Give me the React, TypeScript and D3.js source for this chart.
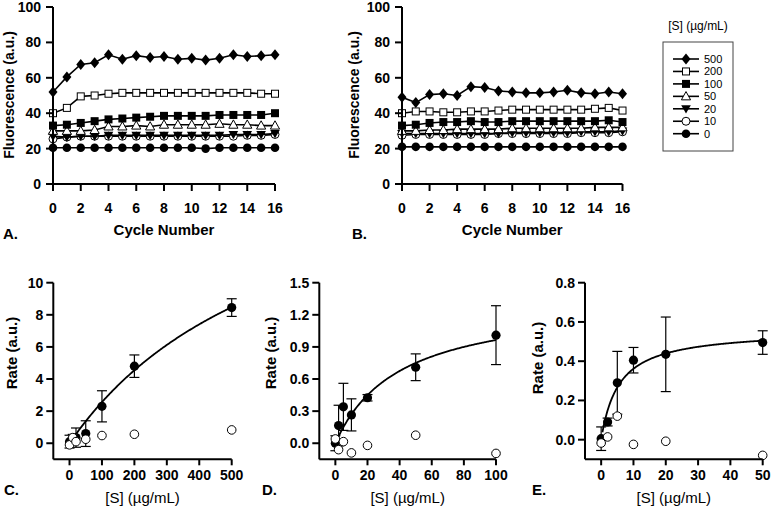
import React from 'react';
import * as d3 from 'd3';

const FONT = '"Liberation Sans", Arial, Helvetica, sans-serif';

// ---------- Data: panels A & B (fluorescence vs cycle) ----------
const cycleNumbers = [0, 1, 2, 3, 4, 5, 6, 7, 8, 9, 10, 11, 12, 13, 14, 15, 16];
const concentrationLabels = ['500', '200', '100', '50', '20', '10', '0'];
const markerKinds = ['diamond', 'openSquare', 'square', 'openTriangle', 'triangleDown', 'openCircle', 'circle'];

const panelA500 = [52, 60.5, 67.5, 68.5, 73, 70.5, 72.5, 71.5, 72, 70.5, 71, 70, 71, 73, 72, 72.5, 73];
const panelA200 = [40, 43, 49.5, 50, 51, 51.5, 51.5, 51.5, 51.5, 51.5, 51.5, 51.5, 51.5, 51.5, 51.5, 51, 51];
const panelA100 = [33, 33.5, 34.5, 35.5, 36.5, 37, 37.5, 38, 38.5, 38.5, 38.5, 38.5, 39, 39, 39, 39, 40];
const panelA50 = [30, 30, 30, 30.5, 32.5, 32.5, 33, 32.5, 33.5, 33.5, 33.5, 33.5, 34, 33.5, 33.5, 33, 33];
const panelA20 = [27, 26.5, 27, 27, 27.5, 27.5, 27.5, 27.5, 27.5, 27.5, 27.5, 27.5, 27.5, 28, 28, 28, 28.5];
const panelA10 = [25.5, 26.5, 27, 27, 27, 27, 27, 27, 27, 27, 27, 27, 27, 27, 27.5, 27.5, 28];
const panelA0 = [20.5, 20.5, 20.5, 20.5, 20.5, 20.5, 20.5, 20.5, 20.5, 20.5, 20.5, 20, 20.5, 20.5, 20.5, 20.5, 20.5];

const panelB500 = [49, 46, 50.5, 51, 50, 55, 54.5, 52.5, 52, 51.5, 51.5, 52, 53, 51.5, 51, 52, 51];
const panelB200 = [40, 41, 41, 40.5, 40.5, 41, 41, 41.5, 42, 42, 42, 42, 42, 42, 42.5, 43, 41.5];
const panelB100 = [33, 33.5, 34.5, 35, 35, 35.5, 35, 35, 35.5, 35.5, 35.5, 35.5, 35.5, 35.5, 35.5, 36, 35];
const panelB50 = [30, 30, 30.5, 30.5, 31, 31, 31, 31, 31.5, 31.5, 31.5, 31.5, 31.5, 31.5, 32, 32, 32];
const panelB20 = [28.5, 28.5, 28.5, 28.5, 28.5, 28.5, 28.5, 28.5, 29, 29, 29, 29, 29, 29.5, 29.5, 29.5, 30];
const panelB10 = [27.5, 28, 28, 28, 28, 28, 28, 28.5, 28.5, 28.5, 28.5, 28.5, 28.5, 29, 29, 29, 29.5];
const panelB0 = [21, 21, 21, 21, 21, 21, 21, 21, 21, 21, 21, 21, 21, 21, 21, 21, 21];

const fluorTicksY = [0, 20, 40, 60, 80, 100];
const cycleTicks = [0, 2, 4, 6, 8, 10, 12, 14, 16];

// ---------- Data: panels C, D, E (rate vs [S]) ----------
const concC = [0, 10, 20, 50, 100, 200, 500];
const rateC = [0.1, 0.25, 0.35, 0.6, 2.3, 4.8, 8.45];
const errC = [0.4, 0.3, 0.6, 0.8, 0.97, 0.7, 0.55];
const ctrlC = [-0.1, 0.35, 0.1, 0.25, 0.48, 0.56, 0.83];
const fitC = { vmax: 20, km: 680, from: 14 };
const ticksXC = [0, 100, 200, 300, 400, 500];
const ticksYC = [0, 2, 4, 6, 8, 10];

const concD = [0, 2, 5, 10, 20, 50, 100];
const rateD = [0.0, 0.165, 0.34, 0.265, 0.425, 0.71, 1.01];
const errD = [0.07, 0.19, 0.22, 0.15, 0.03, 0.125, 0.275];
const ctrlD = [0.04, -0.06, 0.015, -0.09, -0.02, 0.075, -0.095];
const fitD = { vmax: 1.35, km: 40, from: 1 };
const ticksXD = [0, 20, 40, 60, 80, 100];
const ticksYD = [0, 0.3, 0.6, 0.9, 1.2, 1.5];

const concE = [0, 2, 5, 10, 20, 50];
const rateE = [0.005, 0.09, 0.29, 0.405, 0.435, 0.495];
const errE = [0.06, 0.02, 0.16, 0.065, 0.19, 0.06];
const ctrlE = [-0.017, 0.014, 0.12, -0.024, -0.008, -0.08];
const fitE = { vmax: 0.56, km: 5.5, from: 0.4 };
const ticksXE = [0, 10, 20, 30, 40, 50];
const ticksYE = [0, 0.2, 0.4, 0.6, 0.8];

// ---------- Markers ----------
function Marker({ kind, cx, cy }: { kind: string; cx: number; cy: number }) {
  switch (kind) {
    case 'diamond':
      return <path d={`M${cx},${cy - 5.5}L${cx + 4.5},${cy}L${cx},${cy + 5.5}L${cx - 4.5},${cy}Z`} fill="#000" />;
    case 'openSquare':
      return <rect x={cx - 3.5} y={cy - 3.5} width={7} height={7} fill="#fff" stroke="#000" strokeWidth={1} />;
    case 'square':
      return <rect x={cx - 4} y={cy - 4} width={8} height={8} fill="#000" />;
    case 'openTriangle':
      return <path d={`M${cx},${cy - 4.8}L${cx + 4.6},${cy + 3.5}L${cx - 4.6},${cy + 3.5}Z`} fill="#fff" stroke="#000" strokeWidth={1} />;
    case 'triangleDown':
      return <path d={`M${cx - 4.8},${cy - 3.5}L${cx + 4.8},${cy - 3.5}L${cx},${cy + 4.8}Z`} fill="#000" />;
    case 'openCircle':
      return <circle cx={cx} cy={cy} r={4} fill="#fff" stroke="#000" strokeWidth={1} />;
    default:
      return <circle cx={cx} cy={cy} r={4.3} fill="#000" />;
  }
}

// ---------- Line panel (A, B) ----------
function LinePanel({ x0, x1, series, letter, letterX, yLabelX }: any) {
  const x = d3.scaleLinear().domain([0, 16]).range([x0, x1]);
  const y = d3.scaleLinear().domain([0, 100]).range([184, 7]);
  const line = d3.line<number>().x((_, i) => x(cycleNumbers[i])).y((d) => y(d));
  const order = [6, 5, 4, 3, 2, 1, 0];
  return (
    <g>
      {order.map((si) => (
        <g key={si}>
          <path d={line(series[si]) || ''} fill="none" stroke="#000" strokeWidth={1.6} />
          {series[si].map((v: number, i: number) => (
            <Marker key={i} kind={markerKinds[si]} cx={x(cycleNumbers[i])} cy={y(v)} />
          ))}
        </g>
      ))}
      <line x1={x0} x2={x0} y1={y(0)} y2={y(100)} stroke="#000" strokeWidth={2} />
      <line x1={x0} x2={x1} y1={y(0)} y2={y(0)} stroke="#000" strokeWidth={2} />
      {fluorTicksY.map((t) => (
        <g key={t}>
          <line x1={x0 - 7} x2={x0} y1={y(t)} y2={y(t)} stroke="#000" strokeWidth={2} />
          <text x={x0 - 12} y={y(t) + 5} textAnchor="end" fontSize={14} fontWeight="bold" fontFamily={FONT}>{t}</text>
        </g>
      ))}
      {cycleTicks.map((t) => (
        <g key={t}>
          <line x1={x(t)} x2={x(t)} y1={y(0)} y2={y(0) + 7} stroke="#000" strokeWidth={2} />
          <text x={x(t)} y={213} textAnchor="middle" fontSize={14} fontWeight="bold" fontFamily={FONT}>{t}</text>
        </g>
      ))}
      <text x={(x0 + x1) / 2} y={235} textAnchor="middle" fontSize={15} fontWeight="bold" fontFamily={FONT}>Cycle Number</text>
      <text transform={`translate(${yLabelX},95) rotate(-90)`} textAnchor="middle" fontSize={14} fontWeight="bold" fontFamily={FONT}>Fluorescence (a.u.)</text>
      <text x={letterX} y={239} fontSize={15} fontWeight="bold" fontFamily={FONT}>{letter}</text>
    </g>
  );
}

// ---------- Rate panel (C, D, E) ----------
function RatePanel({ x0, x1, xDomain, yDomain, conc, rate, err, ctrl, fit, ticksX, ticksY, yFmt, letter, letterX, yLabelX, yLabelY }: any) {
  const x = d3.scaleLinear().domain(xDomain).range([x0, x1]);
  const y = d3.scaleLinear().domain(yDomain).range([459.3, 282.7]);
  const maxX = xDomain[1];
  const fitPts = d3.range(0, 201).map((k: number) => fit.from + ((maxX - fit.from) * k) / 200);
  const fitLine = d3.line<number>().x((s) => x(s)).y((s) => y((fit.vmax * s) / (fit.km + s)));
  const yb = y(yDomain[0]);
  const fmt = d3.format(yFmt);
  return (
    <g>
      {conc.map((c: number, i: number) => (
        <g key={'e' + i} stroke="#000" strokeWidth={1.2}>
          <line x1={x(c)} x2={x(c)} y1={y(rate[i] - err[i])} y2={y(rate[i] + err[i])} />
          <line x1={x(c) - 5} x2={x(c) + 5} y1={y(rate[i] - err[i])} y2={y(rate[i] - err[i])} />
          <line x1={x(c) - 5} x2={x(c) + 5} y1={y(rate[i] + err[i])} y2={y(rate[i] + err[i])} />
        </g>
      ))}
      {conc.map((c: number, i: number) => (
        <circle key={'f' + i} cx={x(c)} cy={y(rate[i])} r={4.6} fill="#000" />
      ))}
      <path d={fitLine(fitPts) || ''} fill="none" stroke="#000" strokeWidth={1.8} />
      {conc.map((c: number, i: number) => (
        <circle key={'o' + i} cx={x(c)} cy={y(ctrl[i])} r={4.3} fill="#fff" stroke="#000" strokeWidth={1} />
      ))}
      <line x1={x0} x2={x0} y1={yb} y2={y(yDomain[1])} stroke="#000" strokeWidth={2} />
      <line x1={x0} x2={x1} y1={yb} y2={yb} stroke="#000" strokeWidth={2} />
      {ticksY.map((t: number) => (
        <g key={t}>
          <line x1={x0 - 7} x2={x0} y1={y(t)} y2={y(t)} stroke="#000" strokeWidth={2} />
          <text x={x0 - 10} y={y(t) + 5} textAnchor="end" fontSize={14} fontWeight="bold" fontFamily={FONT}>{fmt(t)}</text>
        </g>
      ))}
      {ticksX.map((t: number) => (
        <g key={t}>
          <line x1={x(t)} x2={x(t)} y1={yb} y2={yb + 6} stroke="#000" strokeWidth={2} />
          <text x={x(t)} y={480} textAnchor="middle" fontSize={14} fontWeight="bold" fontFamily={FONT}>{t}</text>
        </g>
      ))}
      <text x={(x0 + x1) / 2} y={503} textAnchor="middle" fontSize={15} fontFamily={FONT}>[S] (µg/mL)</text>
      <text transform={`translate(${yLabelX},${yLabelY}) rotate(-90)`} textAnchor="middle" fontSize={15} fontWeight="bold" fontFamily={FONT}>Rate (a.u.)</text>
      <text x={letterX} y={495} fontSize={15} fontWeight="bold" fontFamily={FONT}>{letter}</text>
    </g>
  );
}

function Legend() {
  const bx = 663, by = 42, bw = 70, bh = 109;
  return (
    <g>
      <text x={bx + bw / 2} y={30} textAnchor="middle" fontSize={12} fontFamily={FONT}>[S] (µg/mL)</text>
      <rect x={bx} y={by} width={bw} height={bh} fill="none" stroke="#444" strokeWidth={1} />
      {concentrationLabels.map((lab, i) => {
        const ry = 59 + i * 12.45;
        return (
          <g key={lab}>
            <line x1={673} x2={699} y1={ry} y2={ry} stroke="#000" strokeWidth={1.6} />
            <Marker kind={markerKinds[i]} cx={686} cy={ry} />
            <text x={704} y={ry + 4} fontSize={11} fontFamily={FONT}>{lab}</text>
          </g>
        );
      })}
    </g>
  );
}

export default function App() {
  const seriesA = [panelA500, panelA200, panelA100, panelA50, panelA20, panelA10, panelA0];
  const seriesB = [panelB500, panelB200, panelB100, panelB50, panelB20, panelB10, panelB0];
  return (
    <svg width={772} height={516} style={{ position: 'absolute', left: 0, top: 0, background: '#fff' }}>
      <rect width={772} height={516} fill="#fff" />
      <LinePanel x0={53} x1={275} series={seriesA} letter="A." letterX={3} yLabelX={14} />
      <LinePanel x0={402} x1={622.5} series={seriesB} letter="B." letterX={352} yLabelX={359} />
      <Legend />
      <RatePanel x0={53.3} x1={231.7} xDomain={[-50, 500]} yDomain={[-1, 10]} conc={concC} rate={rateC} err={errC} ctrl={ctrlC} fit={fitC}
        ticksX={ticksXC} ticksY={ticksYC} yFmt="d" letter="C." letterX={4} yLabelX={17} yLabelY={353} />
      <RatePanel x0={319.3} x1={496} xDomain={[-10, 100]} yDomain={[-0.15, 1.5]} conc={concD} rate={rateD} err={errD} ctrl={ctrlD} fit={fitD}
        ticksX={ticksXD} ticksY={ticksYD} yFmt=".1f" letter="D." letterX={262} yLabelX={276} yLabelY={353} />
      <RatePanel x0={585} x1={762.7} xDomain={[-5, 50]} yDomain={[-0.1, 0.8]} conc={concE} rate={rateE} err={errE} ctrl={ctrlE} fit={fitE}
        ticksX={ticksXE} ticksY={ticksYE} yFmt=".1f" letter="E." letterX={532} yLabelX={543} yLabelY={358} />
    </svg>
  );
}
